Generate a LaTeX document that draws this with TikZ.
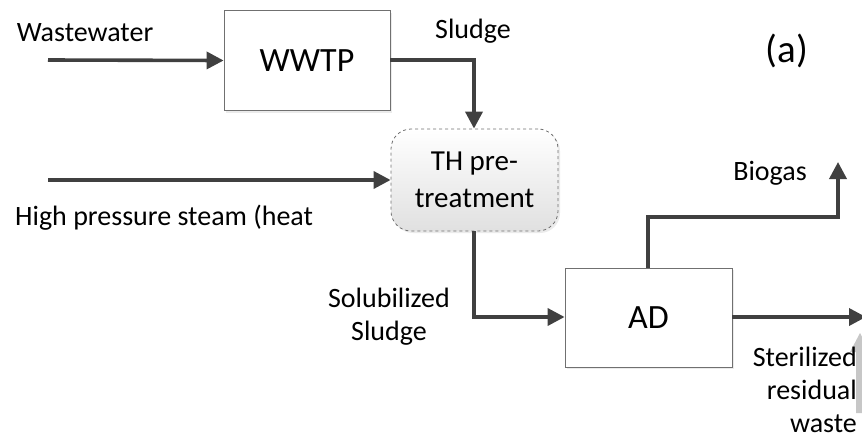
\documentclass[tikz,border=0pt]{standalone}
\usepackage{fontspec}
\setmainfont{Carlito}
\usetikzlibrary{arrows.meta,shadows}
\definecolor{linec}{HTML}{404040}
\definecolor{boxc}{HTML}{707070}
\tikzset{
  flow/.style={draw=linec,line width=3.6pt,-{Triangle[length=17pt,width=17pt]}},
  procbox/.style={draw=boxc,line width=0.8pt,fill=white,minimum width=166pt,minimum height=100pt,
    font=\fontsize{34}{40}\selectfont,
    general shadow={fill=black!8,shadow xshift=2pt,shadow yshift=-2pt}},
  thbox/.style={draw=boxc,dashed,line width=0.8pt,rounded corners=20pt,top color=white,bottom color=black!12,
    minimum width=167pt,minimum height=102pt,align=center,font=\fontsize{29}{37}\selectfont,
    general shadow={fill=black!8,shadow xshift=2pt,shadow yshift=-2pt}},
  lbl/.style={font=\fontsize{28}{33}\selectfont,inner sep=0pt},
}
\begin{document}
\begin{tikzpicture}[x=1pt,y=-1pt]
\useasboundingbox (0,0) rectangle (862,442);
\clip (0,0) rectangle (862,442);
\node[procbox] (wwtp) at (307,60.5) {WWTP};
\node[procbox,minimum width=167pt,minimum height=99pt] (ad) at (648.5,317.5) {AD};
\node[thbox] (th) at (474.5,180) {TH pre-\\treatment};
\coordinate (ww0) at (48,60);
\coordinate (st0) at (48,180);
\coordinate (sl1) at (474,60);
\coordinate (so1) at (474,317);
\coordinate (bg1) at (648,217);
\coordinate (bg2) at (838,217);
\coordinate (bg3) at (838,162);
\coordinate (out1) at (866,317);
\draw[flow] (ww0) -- (wwtp.west);
\draw[flow] (wwtp.east |- sl1) -- (sl1) -- (th.north -| sl1);
\draw[flow] (st0) -- (th.west |- st0);
\draw[flow] (th.south -| so1) -- (so1) -- (ad.west |- so1);
\draw[flow] (ad.north -| bg1) -- (bg1) -- (bg2) -- (bg3);
\draw[flow] (ad.east |- out1) -- (out1);
% partial grey arrow at the right edge
\fill[black!22] (860,333) -- (870,352) -- (864,352) -- (864,413) -- (856,413) -- (856,352) -- (850,352) -- cycle;
\node[lbl] (lww) at (85,33) {Wastewater};
\node[lbl] (lsl) at (473,31) {Sludge};
\node[lbl,font=\fontsize{39}{44}\selectfont] (la) at (787,51) {(a)};
\node[lbl] (lbg) at (770,173) {Biogas};
\node[lbl,anchor=west] (lst) at (15,218) {High pressure steam (heat};
\node[lbl,align=center] (lso) at (389,317) {Solubilized\\Sludge};
\node[lbl,align=right,anchor=north east] (lsr) at (857,347) {Sterilized\\residual\\waste};
\end{tikzpicture}
\end{document}
